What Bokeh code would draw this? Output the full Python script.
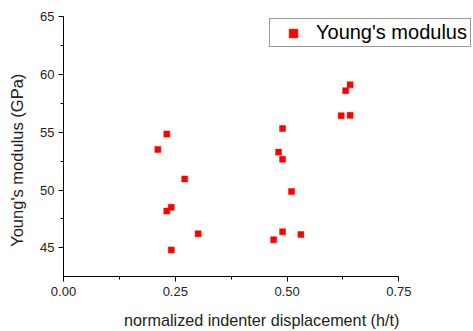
from bokeh.plotting import figure
from bokeh.models import FixedTicker, Range1d, Legend, LegendItem, ColumnDataSource
from bokeh.embed import file_html
from bokeh.resources import INLINE

x_vals = [0.231, 0.211, 0.271, 0.231, 0.241, 0.301, 0.241,
          0.490, 0.481, 0.490, 0.510, 0.490, 0.470, 0.531,
          0.641, 0.631, 0.621, 0.641]
y_vals = [54.85, 53.51, 50.96, 48.18, 48.52, 46.22, 44.83,
          55.33, 53.28, 52.66, 49.88, 46.39, 45.71, 46.16,
          59.10, 58.59, 56.43, 56.46]
x_ticks = [0.0, 0.25, 0.5, 0.75]
x_minor = [0.125, 0.375, 0.625]
y_ticks = [45, 50, 55, 60, 65]
y_minor = [47.5, 52.5, 57.5, 62.5]
series_name = "Young's modulus"
x_title = "normalized indenter displacement (h/t)"
y_title = "Young's modulus (GPa)"

FONT = "Liberation Sans"
NBSP = "\u00a0"

p = figure(width=473, height=331, output_backend="svg", toolbar_location=None,
           x_range=Range1d(0, 0.917), y_range=Range1d(42.53, 65),
           min_border_left=63, min_border_right=0, min_border_top=16, min_border_bottom=51)
p.outline_line_color = None
p.xgrid.visible = False
p.ygrid.visible = False
p.background_fill_color = "white"
p.border_fill_color = "white"

src = ColumnDataSource(dict(x=x_vals, y=y_vals))
r = p.scatter("x", "y", source=src, marker="square", size=6,
              fill_color="#ff0000", line_color="#ff0000", line_width=0.5)

for ax in (p.xaxis[0], p.yaxis[0]):
    ax.axis_line_color = "black"
    ax.axis_line_width = 1
    ax.major_tick_line_color = "black"
    ax.minor_tick_line_color = "black"
    ax.major_tick_in = 0
    ax.major_tick_out = 5
    ax.minor_tick_in = 0
    ax.minor_tick_out = 3
    ax.major_label_text_font = FONT
    ax.major_label_text_font_size = "13px"
    ax.major_label_text_color = "#222222"
    ax.axis_label_text_font = FONT
    ax.axis_label_text_font_style = "normal"
    ax.axis_label_text_color = "#222222"

p.xaxis[0].ticker = FixedTicker(ticks=x_ticks, minor_ticks=x_minor)
p.xaxis[0].bounds = (0, 0.75)
p.xaxis[0].major_label_overrides = {0.0: "0.00", 0.25: "0.25", 0.5: "0.50", 0.75: "0.75"}
# trailing no-break spaces shift the centred title toward the left, as in the reference
p.xaxis[0].axis_label = x_title + NBSP * 3
p.xaxis[0].axis_label_text_font_size = "16.2px"
p.xaxis[0].major_label_standoff = 5
p.xaxis[0].axis_label_standoff = 12

p.yaxis[0].ticker = FixedTicker(ticks=y_ticks, minor_ticks=y_minor)
# trailing no-break spaces shift the rotated title downward, as in the reference
p.yaxis[0].axis_label = y_title + NBSP * 6
p.yaxis[0].axis_label_text_font_size = "16.5px"
p.yaxis[0].major_label_standoff = 4
p.yaxis[0].axis_label_standoff = 11

legend = Legend(items=[LegendItem(label=series_name, renderers=[r])],
                location=(206, 229), orientation="vertical",
                label_text_font=FONT, label_text_font_size="20px",
                label_text_color="black",
                border_line_color="#333333", border_line_width=1,
                background_fill_color="white", background_fill_alpha=1,
                padding=2, spacing=0, margin=0,
                glyph_width=42, glyph_height=22, label_standoff=2,
                label_height=22, label_width=152)
p.add_layout(legend, "center")

open("out.html", "w").write(file_html(p, INLINE))
